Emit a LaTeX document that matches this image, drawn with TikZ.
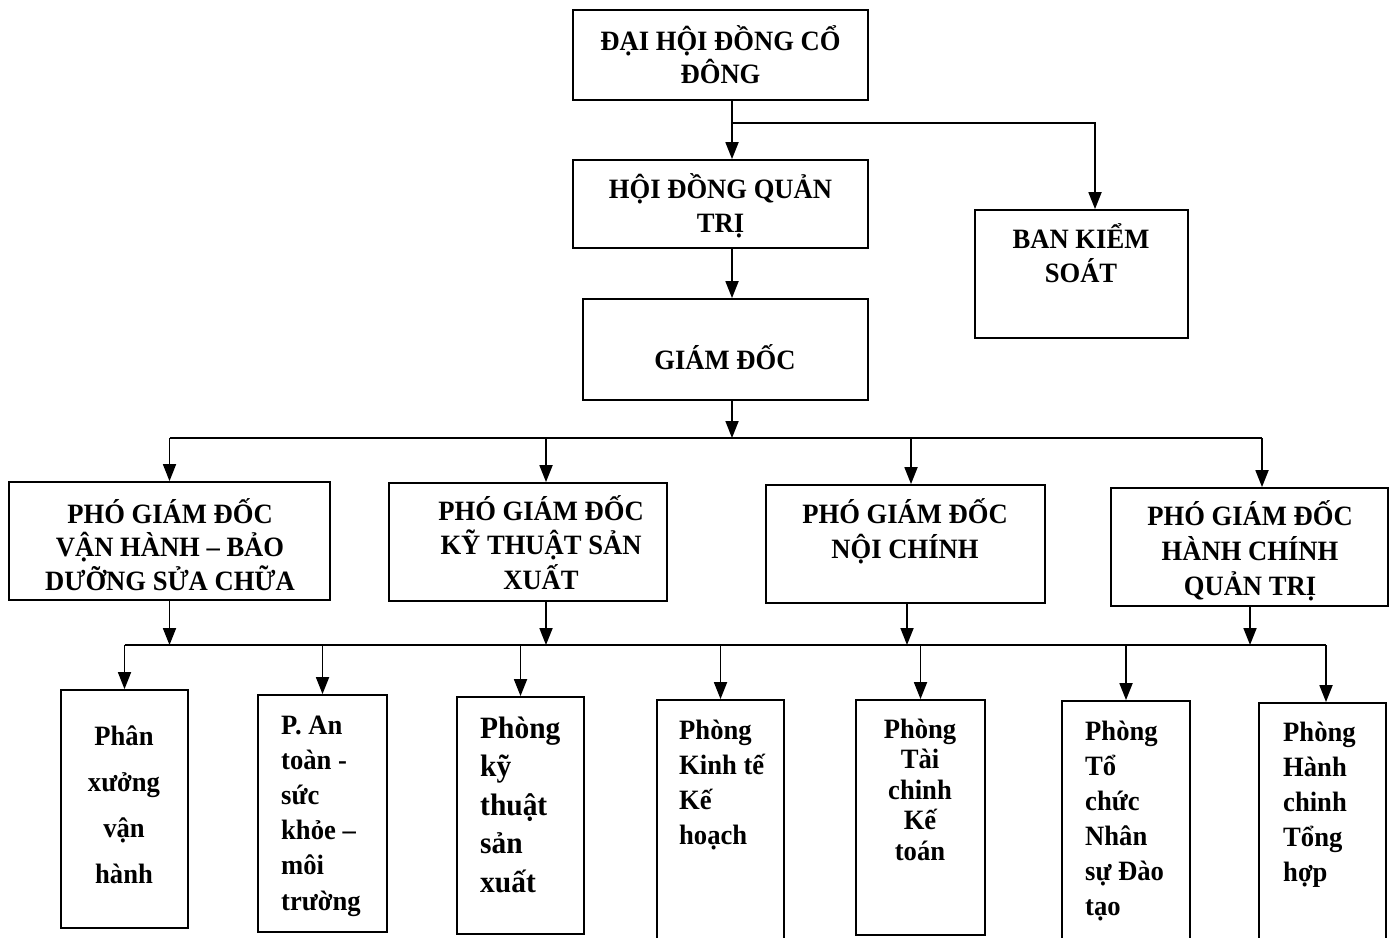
\documentclass[tikz,border=0pt]{standalone}
\usepackage{fontspec}
\setmainfont{Liberation Serif}[FakeStretch=0.95]
\usetikzlibrary{arrows.meta,calc}
\begin{document}
\begin{tikzpicture}[x=1pt,y=-1pt,
  box/.style={draw, line width=1.8pt, inner sep=0pt},
  lbl/.style={font=\fontsize{28}{34}\selectfont\bfseries, anchor=base, inner sep=0pt},
  lblw/.style={lbl, anchor=base west},
  lblbig/.style={lblw, font=\fontsize{31}{37}\selectfont\bfseries},
  arr/.style={line width=1.8pt, -{Triangle[length=17pt,width=13pt]}},
  ln/.style={line width=1.8pt}]
\useasboundingbox (0,0) rectangle (1394,937);
\clip (0,0) rectangle (1394,937);
% boxes
\node[box, minimum width=295, minimum height=90]  (top)  at (720.5,55) {};
\node[box, minimum width=295, minimum height=88]  (hdqt) at (720.5,204) {};
\node[box, minimum width=213, minimum height=128] (bks)  at (1081.5,274) {};
\node[box, minimum width=285, minimum height=101] (gd)   at (725.5,349.5) {};
\node[box, minimum width=321, minimum height=118] (p1)   at (169.5,541) {};
\node[box, minimum width=278, minimum height=118] (p2)   at (528,542) {};
\node[box, minimum width=279, minimum height=118] (p3)   at (905.5,544) {};
\node[box, minimum width=277, minimum height=118] (p4)   at (1249.5,547) {};
\node[box, minimum width=127, minimum height=238] (b1)   at (124.5,809) {};
\node[box, minimum width=129, minimum height=237] (b2)   at (322.5,813.5) {};
\node[box, minimum width=127, minimum height=237] (b3)   at (520.5,815.5) {};
\node[box, minimum width=127, minimum height=260] (b4)   at (720.5,830) {};
\node[box, minimum width=129, minimum height=235] (b5)   at (920.5,817.5) {};
\node[box, minimum width=128, minimum height=259] (b6)   at (1126,830.5) {};
\node[box, minimum width=127, minimum height=257] (b7)   at (1322.5,831.5) {};
% texts
\foreach \s [count=\i] in {ĐẠI HỘI ĐỒNG CỔ,ĐÔNG}
  \node[lbl] (tt\i) at (720.5,{50+33*(\i-1)}) {\s};
\foreach \s [count=\i] in {HỘI ĐỒNG QUẢN,TRỊ}
  \node[lbl] (th\i) at (720.5,{198+34*(\i-1)}) {\s};
\foreach \s [count=\i] in {BAN KIỂM,SOÁT}
  \node[lbl] (tk\i) at (1081,{248+34*(\i-1)}) {\s};
\node[lbl] (tg) at (725,369) {GIÁM ĐỐC};
\foreach \s [count=\i] in {PHÓ GIÁM ĐỐC,VẬN HÀNH – BẢO,DƯỠNG SỬA CHỮA}
  \node[lbl] (tp1\i) at (170,{523+33.5*(\i-1)}) {\s};
\foreach \s [count=\i] in {PHÓ GIÁM ĐỐC,KỸ THUẬT SẢN,XUẤT}
  \node[lbl] (tp2\i) at (541,{520+34.5*(\i-1)}) {\s};
\foreach \s [count=\i] in {PHÓ GIÁM ĐỐC,NỘI CHÍNH}
  \node[lbl] (tp3\i) at (905,{523+35*(\i-1)}) {\s};
\foreach \s [count=\i] in {PHÓ GIÁM ĐỐC,HÀNH CHÍNH,QUẢN TRỊ}
  \node[lbl] (tp4\i) at (1250,{525+35*(\i-1)}) {\s};
\foreach \s [count=\i] in {Phân,xưởng,vận,hành}
  \node[lbl] (tb1\i) at (124,{745+46*(\i-1)}) {\s};
\foreach \s [count=\i] in {P. An,toàn -,sức,khỏe –,môi,trường}
  \node[lblw] (tb2\i) at (281,{734+35.2*(\i-1)}) {\s};
\foreach \s [count=\i] in {Phòng,kỹ,thuật,sản,xuất}
  \node[lblbig] (tb3\i) at (480,{738+38.5*(\i-1)}) {\s};
\foreach \s [count=\i] in {Phòng,Kinh tế,Kế,hoạch}
  \node[lblw] (tb4\i) at (679,{739+35.2*(\i-1)}) {\s};
\foreach \s [count=\i] in {Phòng,Tài,chinh,Kế,toán}
  \node[lbl] (tb5\i) at (920,{738+30.5*(\i-1)}) {\s};
\foreach \s [count=\i] in {Phòng,Tổ,chức,Nhân,sự Đào,tạo}
  \node[lblw] (tb6\i) at (1085,{740+35*(\i-1)}) {\s};
\foreach \s [count=\i] in {Phòng,Hành,chinh,Tổng,hợp}
  \node[lblw] (tb7\i) at (1283,{741+35*(\i-1)}) {\s};
% connectors
\coordinate (j0) at (732,123);
\draw[arr] ([xshift=11.5pt]top.south) -- ([xshift=11.5pt]hdqt.north);
\draw[arr] (j0) -| ([xshift=13.5pt]bks.north);
\draw[arr] ([xshift=11.5pt]hdqt.south) -- ([xshift=6.5pt]gd.north);
\coordinate (bus1) at (732,438);
\coordinate (bus1l) at (169.5,438);
\coordinate (bus1r) at (1262,438);
\draw[arr] ([xshift=6.5pt]gd.south) -- (bus1);
\draw[ln] (bus1l) -- (bus1r);
\draw[arr] (p1.north |- bus1) -- (p1.north);
\draw[arr] ([xshift=18pt]p2.north |- bus1) -- ([xshift=18pt]p2.north);
\draw[arr] ([xshift=5.5pt]p3.north |- bus1) -- ([xshift=5.5pt]p3.north);
\draw[arr] ([xshift=12.5pt]p4.north |- bus1) -- ([xshift=12.5pt]p4.north);
\coordinate (bus2) at (720,645);
\coordinate (bus2l) at (124.5,645);
\coordinate (bus2r) at (1326,645);
\draw[ln] (bus2l) -- (bus2r);
\draw[arr] (p1.south) -- (p1.south |- bus2);
\draw[arr] ([xshift=18pt]p2.south) -- ([xshift=18pt]p2.south |- bus2);
\draw[arr] ([xshift=1.5pt]p3.south) -- ([xshift=1.5pt]p3.south |- bus2);
\draw[arr] ([xshift=0.5pt]p4.south) -- ([xshift=0.5pt]p4.south |- bus2);
\foreach \b in {b1,b2,b3,b4,b5,b6}
  \draw[arr] (\b.north |- bus2) -- (\b.north);
\draw[arr] ([xshift=3.5pt]b7.north |- bus2) -- ([xshift=3.5pt]b7.north);
\end{tikzpicture}
\end{document}
